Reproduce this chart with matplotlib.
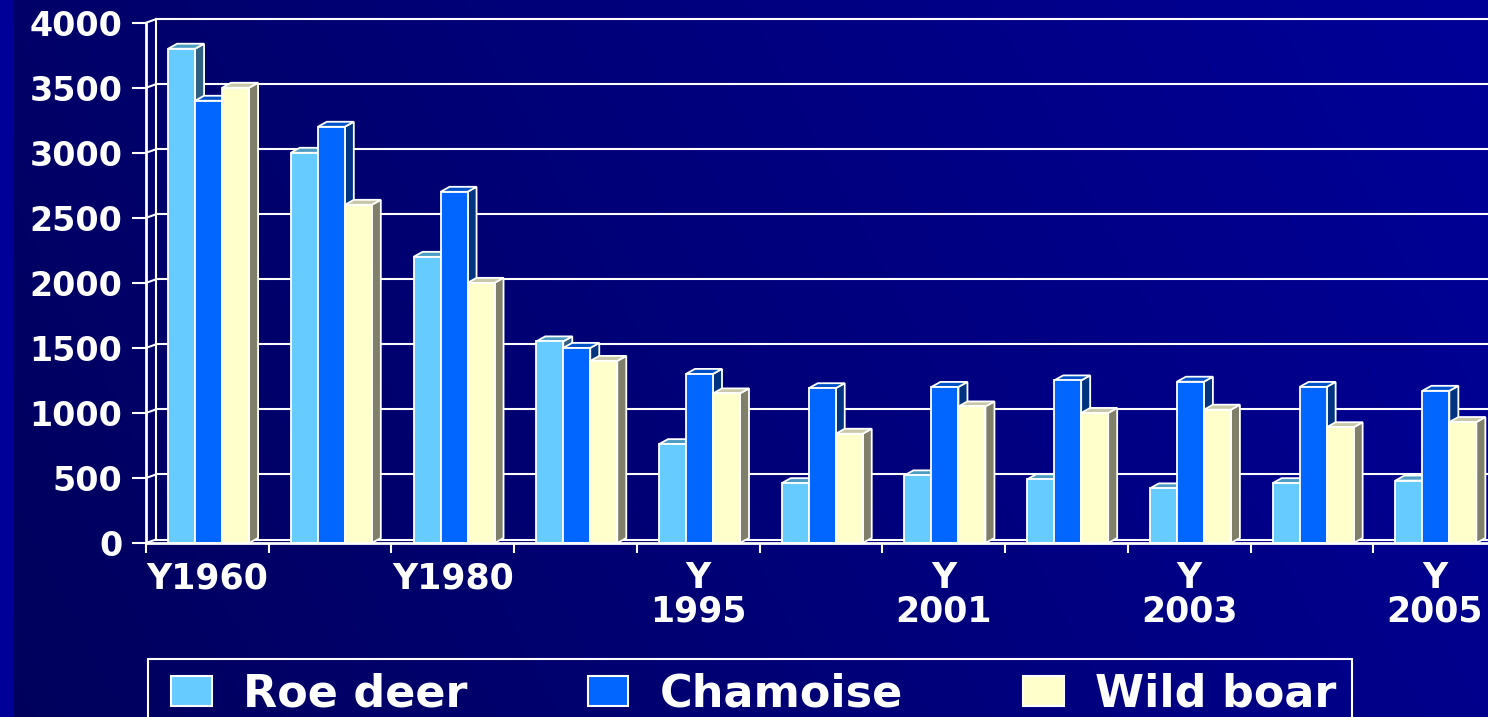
import numpy as np
import matplotlib
matplotlib.use('Agg')
import matplotlib.pyplot as plt
from matplotlib.patches import Polygon, Rectangle

# data (every other year label is hidden in the original)
years = ['Y1960', 'Y1970', 'Y1980', 'Y1990', 'Y\n1995', 'Y\n2000',
         'Y\n2001', 'Y\n2002', 'Y\n2003', 'Y\n2004', 'Y\n2005']
roe_deer = [3800, 3000, 2200, 1550, 760, 460, 520, 490, 420, 460, 480]
chamoise = [3400, 3200, 2700, 1500, 1300, 1190, 1200, 1250, 1240, 1200, 1170]
wild_boar = [3500, 2600, 2000, 1400, 1150, 840, 1050, 1000, 1025, 890, 930]
series_names = ['Roe deer', 'Chamoise', 'Wild boar']
y_ticks = [0, 500, 1000, 1500, 2000, 2500, 3000, 3500, 4000]

front_col = ['#66CCFF', '#0066FF', '#FFFFCC']
top_col = ['#4C9CC4', '#0050C8', '#C8C8A8']
side_col = ['#2F6080', '#003380', '#80806A']

W, H = 1488, 717
fig = plt.figure(figsize=(W / 100, H / 100), dpi=100)

# background gradient
bg = fig.add_axes([0, 0, 1, 1])
bg.axis('off')
xx, yy = np.meshgrid(np.linspace(0, 1, 300), np.linspace(0, 1, 150))
t = 0.8 * xx + 0.2 * (1 - yy)
c0 = np.array([0x00, 0x00, 0x5C]) / 255
c1 = np.array([0x00, 0x00, 0x98]) / 255
img = c0 + (c1 - c0) * t[..., None]
bg.imshow(img, extent=[0, 1, 0, 1], aspect='auto', origin='upper')
bg.add_patch(Rectangle((0, 0), 12 / W, 1, color='#000099', transform=bg.transAxes))
bg.set_xlim(0, 1)
bg.set_ylim(0, 1)

ax = fig.add_axes([146 / W, 174 / H, 1350 / W, 520.3 / H])
ax.set_facecolor('none')
n = len(years)
ax.set_xlim(-0.5, n - 0.5)
ax.set_ylim(0, 4000)

px_x = 1 / 122.7          # one pixel in category units
px_y = 4000 / 520.3       # one pixel in value units

# back wall
wdx, wdy = 10 * px_x, 3.5 * px_y
for v in y_ticks:
    ax.plot([-0.5 + wdx, n], [v + wdy, v + wdy], color='white', lw=1.5,
            zorder=1, clip_on=False)
    ax.plot([-0.5, -0.5 + wdx], [v, v + wdy], color='white', lw=1.5,
            zorder=1, clip_on=False)
ax.plot([-0.5 + wdx, -0.5 + wdx], [wdy, 4000 + wdy], color='white', lw=1.5,
        zorder=1, clip_on=False)

# 3D-looking bars
bw = 0.22
bdx, bdy = 9 * px_x, 5 * px_y
data = [roe_deer, chamoise, wild_boar]
z = 2
for i in range(n):
    for k, vals in enumerate(data):
        x0 = i + (k - 1) * bw - bw / 2 + 0.01
        x1 = x0 + bw
        h = vals[i]
        side = Polygon([(x1, 0), (x1 + bdx, bdy), (x1 + bdx, h + bdy), (x1, h)],
                       closed=True, facecolor=side_col[k], edgecolor='white',
                       lw=1.3, zorder=z)
        top = Polygon([(x0, h), (x0 + bdx, h + bdy), (x1 + bdx, h + bdy), (x1, h)],
                      closed=True, facecolor=top_col[k], edgecolor='white',
                      lw=1.3, zorder=z)
        ax.add_patch(side)
        ax.add_patch(top)
        ax.bar(x0, h, width=bw, align='edge', color=front_col[k],
               edgecolor='white', lw=1.3, zorder=z + 1)
        z += 2

# axes styling
for s in ['top', 'right']:
    ax.spines[s].set_visible(False)
for s in ['left', 'bottom']:
    ax.spines[s].set_color('white')
    ax.spines[s].set_linewidth(2)
    ax.spines[s].set_zorder(200)
ax.spines['bottom'].set_bounds(-0.5, n - 0.5)

ax.set_yticks(y_ticks)
ax.set_yticklabels([str(v) for v in y_ticks])
ax.tick_params(axis='y', colors='white', length=10, width=1.5, pad=7,
               labelsize=24)

ax.set_xticks(np.arange(-0.5, n, 1.0))
ax.set_xticklabels([])
ax.set_xticks(np.arange(n), minor=True)
ax.set_xticklabels([lab if i % 2 == 0 else '' for i, lab in enumerate(years)],
                   minor=True)
ax.tick_params(axis='x', which='major', colors='white', length=7, width=1.5)
ax.tick_params(axis='x', which='minor', colors='white', length=0, pad=13,
               labelsize=25)
for lab in ax.get_xticklabels(minor=True) + ax.get_yticklabels():
    lab.set_fontweight('bold')
    lab.set_color('white')
for lab in ax.get_xticklabels(minor=True):
    lab.set_linespacing(0.98)

# legend (frame drawn separately so it runs off the bottom like the original)
handles = [Rectangle((0, 0), 1, 1, facecolor=front_col[k], edgecolor='white', lw=1.5)
           for k in range(3)]
leg = fig.legend(handles, series_names, loc='lower left',
                 bbox_to_anchor=(171 / W, 1.5 / H), ncol=3,
                 prop={'weight': 'bold', 'size': 32}, frameon=False,
                 handlelength=0.92, handleheight=0.66,
                 handletextpad=0.7, columnspacing=2.7, borderpad=0,
                 borderaxespad=0)
for txt in leg.get_texts():
    txt.set_color('white')
fig.add_artist(Rectangle((148 / W, -0.02), (1352 - 148) / W, (717 - 659) / H + 0.02,
                         transform=fig.transFigure, facecolor='none',
                         edgecolor='white', lw=1.5))

fig.savefig('out.png', dpi=100)
